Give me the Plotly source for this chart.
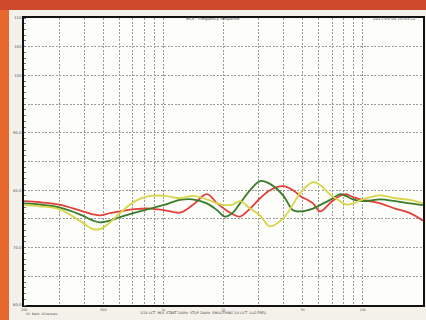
import plotly.graph_objects as go

# ---- data -------------------------------------------------------------
freq_hz = [200, 240, 300, 380, 445, 480, 540, 605, 720, 855, 1020, 1210, 1400,
           1650, 1860, 2030, 2230, 2420, 2720, 3050, 3420, 3980, 4460, 4840,
           5620, 6090, 6920, 7670, 8220, 8920, 10000, 12200, 14500, 17200, 20000]

red_db = [78.1, 77.9, 77.5, 76.5, 75.8, 75.6, 76.0, 76.3, 76.7, 76.8, 76.5, 76.1,
          77.4, 79.3, 77.7, 76.7, 75.8, 75.4, 76.8, 78.6, 80.0, 80.7, 80.0, 79.0,
          77.7, 76.3, 77.9, 79.0, 79.3, 78.8, 78.3, 77.7, 76.8, 76.0, 74.7]

green_db = [77.7, 77.5, 77.0, 75.8, 74.7, 74.4, 74.7, 75.3, 76.1, 76.8, 77.5, 78.3,
            78.4, 77.7, 76.5, 75.4, 76.1, 77.7, 80.0, 81.6, 81.1, 79.1, 76.5, 76.3,
            76.8, 77.4, 78.4, 79.3, 79.0, 78.4, 78.1, 78.4, 78.1, 77.7, 77.4]

yellow_db = [77.4, 77.2, 76.7, 74.7, 73.2, 73.2, 74.4, 76.0, 78.1, 79.0, 79.0, 78.6,
             79.0, 78.4, 77.7, 77.4, 77.5, 78.1, 76.8, 75.6, 73.7, 75.1, 77.5, 79.5,
             81.4, 80.9, 79.1, 78.1, 77.5, 77.7, 78.4, 79.1, 78.6, 78.3, 77.7]

x_grid = [200, 300, 400, 500, 600, 700, 800, 900, 1000, 2000, 3000, 4000, 5000,
          6000, 7000, 8000, 9000, 10000, 20000]
x_labels = ["200", "", "", "500", "", "", "", "", "1k", "2k", "", "", "5k",
            "", "", "", "", "10k", "20k"]
y_grid = [60, 65, 70, 75, 80, 85, 90, 95, 100, 105, 110]
y_labels = ["60.0", "", "70.0", "", "80.0", "", "90.0", "", "100", "105", "110"]

series = [("red", red_db, "#e2403a"),
          ("green", green_db, "#3c7a2c"),
          ("yellow", yellow_db, "#d6d64a")]

# ---- figure -----------------------------------------------------------
fig = go.Figure()
for name, vals, col in series:
    fig.add_trace(go.Scatter(x=freq_hz, y=vals, mode="lines", name=name,
                             line=dict(color=col, width=1.8, shape="spline",
                                       smoothing=1.0),
                             hoverinfo="skip"))

L, R, T, B = 24, 3, 18, 15
W, H = 426, 320
pw, ph = W - L - R, H - T - B


def px_x(p):
    return (p - L) / pw


def px_y(p):
    return (H - B - p) / ph


fig.update_layout(
    width=W, height=H,
    margin=dict(l=L, r=R, t=T, b=B, autoexpand=False),
    paper_bgcolor="#e8672c",
    plot_bgcolor="rgba(0,0,0,0)",
    showlegend=False,
    font=dict(family="DejaVu Sans", size=5, color="#555555"),
    shapes=[
        dict(type="rect", xref="paper", yref="paper",
             x0=px_x(9), x1=px_x(W + 2), y0=px_y(H + 2), y1=px_y(10),
             fillcolor="#f3f1e9", line=dict(width=0), layer="below"),
        dict(type="rect", xref="paper", yref="paper",
             x0=px_x(-2), x1=px_x(W + 2), y0=px_y(10), y1=px_y(-2),
             fillcolor="#cf4a2c", line=dict(width=0), layer="below"),
        dict(type="rect", xref="paper", yref="paper",
             x0=0, x1=1, y0=0, y1=1,
             fillcolor="#fdfdfa", line=dict(width=0), layer="below"),
    ],
    annotations=[
        dict(text="MLS - Frequency Response", x=px_x(213), y=px_y(13.5),
             xref="paper", yref="paper", showarrow=False,
             font=dict(size=4, color="#444444")),
        dict(text="2011-04-04 10:53:12", x=px_x(418), y=px_y(13.5),
             xref="paper", yref="paper", showarrow=False, xanchor="right",
             font=dict(size=4, color="#444444")),
        dict(text="1/24 OCT  MLS  START 200Hz  STOP 20kHz  SMOOTHING 1/6 OCT  LOG FREQ",
             x=px_x(203), y=px_y(317.2), xref="paper", yref="paper",
             showarrow=False, font=dict(size=3.3, color="#444444")),
        dict(text="Ch. Bank: 2Channels", x=px_x(24), y=px_y(317.8),
             xref="paper", yref="paper", showarrow=False, xanchor="left",
             font=dict(size=3, color="#444444")),
    ],
)

fig.update_xaxes(type="log", range=[2.30103, 4.30103], automargin=False,
                 tickmode="array", tickvals=x_grid, ticktext=x_labels,
                 showgrid=True, gridcolor="#9a9a9a", gridwidth=0.8,
                 griddash="2px,1.5px",
                 showline=True, linecolor="#111111", linewidth=1.6, mirror=True,
                 ticks="", ticklen=0, tickfont=dict(size=3.4, color="#555555"),
                 zeroline=False)
fig.update_yaxes(range=[60, 110], tickmode="array", tickvals=y_grid,
                 automargin=False,
                 ticktext=y_labels, showgrid=True, gridcolor="#9a9a9a",
                 gridwidth=0.8, griddash="2px,1.5px",
                 showline=True, linecolor="#111111", linewidth=1.6, mirror=True,
                 ticks="", tickfont=dict(size=3.8, color="#555555"),
                 minor=dict(ticks="inside", ticklen=2, dtick=1,
                            tickcolor="#777777", showgrid=False),
                 zeroline=False)

fig.write_html("out.html", config={"displayModeBar": False},
               post_script="document.body.style.margin='0';"
                           "document.body.style.overflow='hidden';")
